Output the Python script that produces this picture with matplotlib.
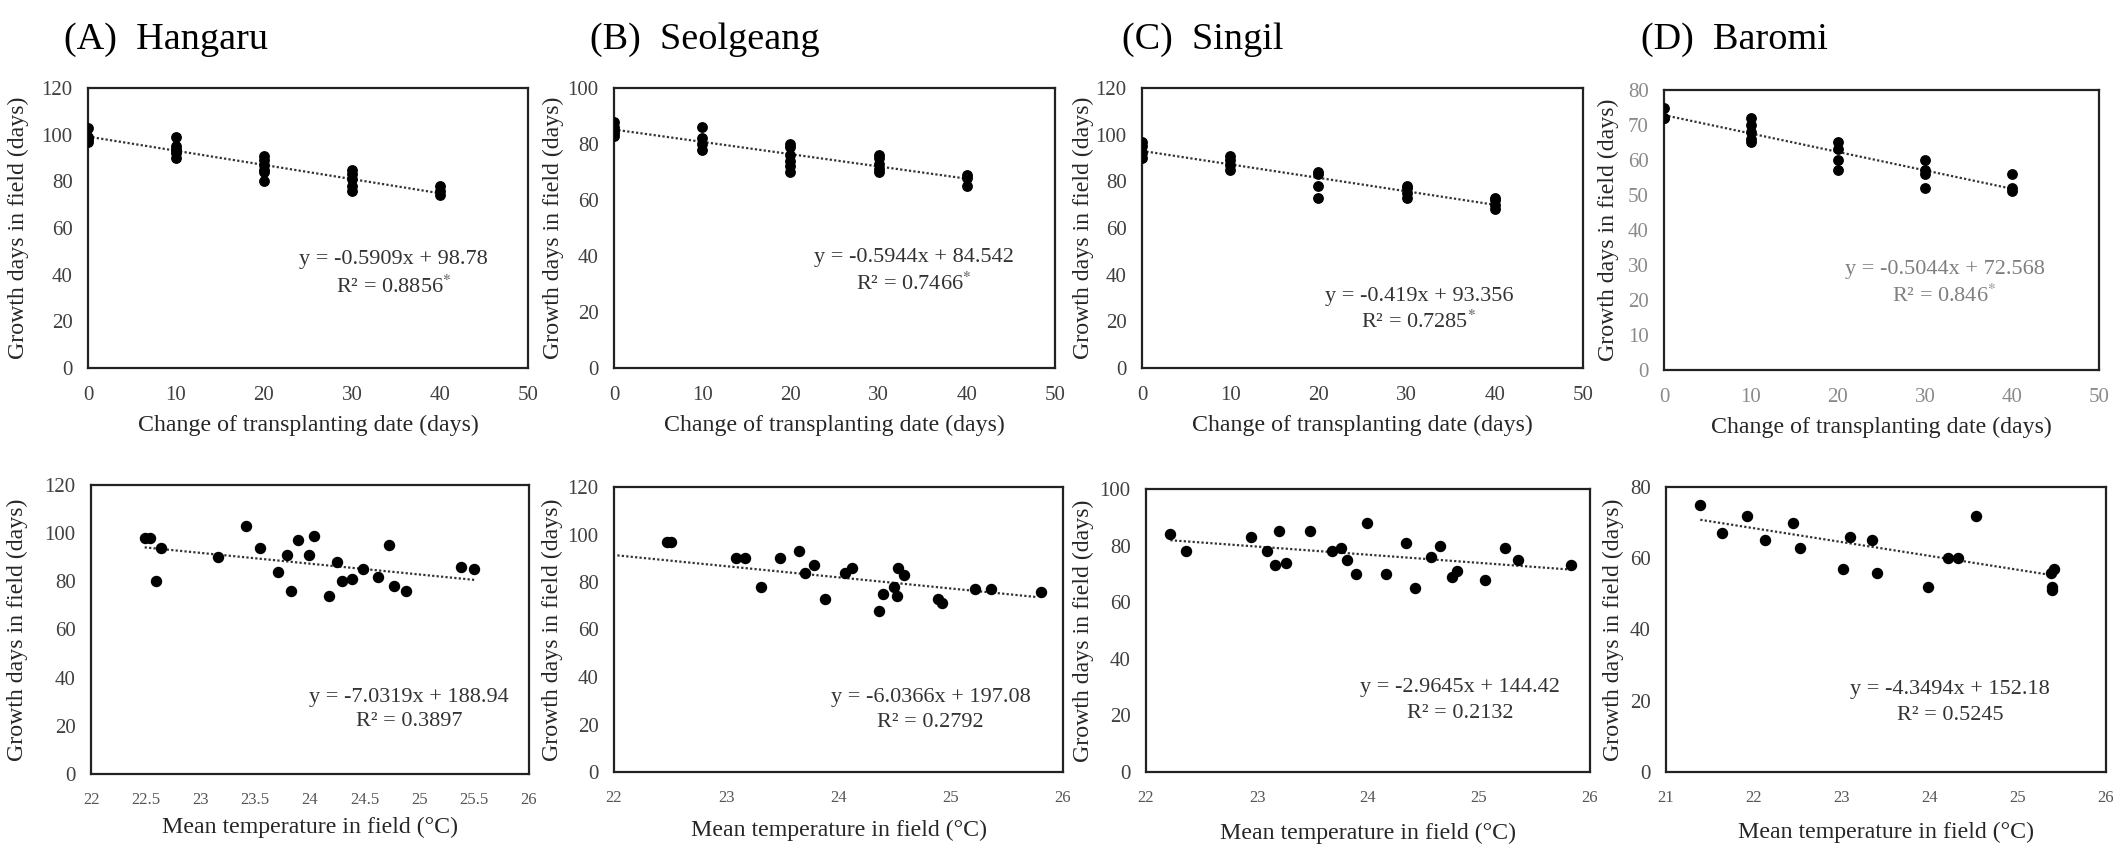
import numpy as np
import matplotlib
matplotlib.use("Agg")
import matplotlib.pyplot as plt

plt.rcParams['font.family'] = ['Liberation Serif', 'DejaVu Serif']
plt.rcParams['mathtext.fontset'] = 'stix'

# ---- top row: change of transplanting date (days) vs growth days
change_x = [0, 10, 20, 30, 40]
hangaru_change = [[103, 98, 97, 99], [99, 95, 93, 92, 90, 94], [91, 89, 87, 85, 84, 80],
                  [85, 83, 81, 78, 76], [78, 76, 74]]
seolgeang_change = [[88, 86, 85, 84, 83], [86, 82, 80, 78], [80, 79, 76, 74, 72, 70],
                    [76, 75, 73, 71, 70], [69, 68, 65]]
singil_change = [[97, 95, 92, 90], [91, 89, 87, 85], [84, 83, 78, 73],
                 [78, 77, 75, 73], [73, 72, 70, 68]]
baromi_change = [[75, 72, 72], [72, 70, 68, 66, 65], [65, 63, 60, 57],
                 [60, 57, 56, 52], [56, 52, 51]]

# ---- bottom row: mean temperature in field vs growth days
hangaru_temp = [22.49, 22.54, 22.59, 22.64, 23.16, 23.42, 23.54, 23.71, 23.79, 23.83, 23.89, 23.99,
                24.04, 24.17, 24.25, 24.29, 24.38, 24.48, 24.62, 24.72, 24.77, 24.88, 25.38, 25.50]
hangaru_days = [98, 98, 80, 94, 90, 103, 94, 84, 91, 76, 97, 91,
                99, 74, 88, 80, 81, 85, 82, 95, 78, 76, 86, 85]
seolgeang_temp = [22.47, 22.51, 23.09, 23.17, 23.31, 23.48, 23.65, 23.70, 23.78, 23.88, 24.06, 24.12,
                  24.36, 24.40, 24.49, 24.52, 24.53, 24.58, 24.89, 24.92, 25.22, 25.36, 25.80]
seolgeang_days = [97, 97, 90, 90, 78, 90, 93, 84, 87, 73, 84, 86,
                  68, 75, 78, 74, 86, 83, 73, 71, 77, 77, 76]
singil_temp = [22.22, 22.36, 22.95, 23.09, 23.16, 23.20, 23.26, 23.48, 23.68, 23.76, 23.81, 23.89,
               23.99, 24.16, 24.34, 24.42, 24.57, 24.65, 24.76, 24.80, 25.05, 25.23, 25.35, 25.83]
singil_days = [84, 78, 83, 78, 73, 85, 74, 85, 78, 79, 75, 70,
               88, 70, 81, 65, 76, 80, 69, 71, 68, 79, 75, 73]
baromi_temp = [21.39, 21.64, 21.92, 22.12, 22.44, 22.52, 23.01, 23.09, 23.34, 23.40, 23.98, 24.21,
               24.32, 24.52, 25.38, 25.41, 25.39, 25.39]
baromi_days = [75, 67, 72, 65, 70, 63, 57, 66, 65, 56, 52, 60,
               60, 72, 56, 57, 52, 51]

# dotted trend lines of the bottom row: (x start, x end), (y start, y end)
bot_trend_x = [(22.49, 25.5), (22.03, 25.76), (22.22, 25.8), (21.39, 25.4)]
bot_trend_y = [(94.1, 80.6), (91.2, 73.7), (81.9, 71.6), (70.8, 55.2)]

titles = ['(A)  Hangaru', '(B)  Seolgeang', '(C)  Singil', '(D)  Baromi']
top_eq = [('y = -0.5909x + 98.78', 'R² = 0.8856'), ('y = -0.5944x + 84.542', 'R² = 0.7466'),
          ('y = -0.419x + 93.356', 'R² = 0.7285'), ('y = -0.5044x + 72.568', 'R² = 0.846')]
bot_eq = [('y = -7.0319x + 188.94', 'R² = 0.3897'), ('y = -6.0366x + 197.08', 'R² = 0.2792'),
          ('y = -2.9645x + 144.42', 'R² = 0.2132'), ('y = -4.3494x + 152.18', 'R² = 0.5245')]
top_ymax = [120, 100, 120, 80]
top_ystep = [20, 20, 20, 10]
bot_ymax = [120, 120, 100, 80]
bot_xlim = [(22, 26), (22, 26), (22, 26), (21, 26)]
bot_xstep = [0.5, 1, 1, 1]

top_data = [hangaru_change, seolgeang_change, singil_change, baromi_change]
bot_data = [(hangaru_temp, hangaru_days), (seolgeang_temp, seolgeang_days),
            (singil_temp, singil_days), (baromi_temp, baromi_days)]

W, H = 2124, 864
top_box = [(88, 528, 88, 368), (614, 1055, 88, 368), (1142, 1583, 88, 368), (1664, 2099, 90, 370)]
bot_box = [(91, 529, 485, 774), (614, 1063, 487, 772), (1146, 1590, 489, 772), (1666, 2106, 487, 772)]
title_x = [64, 590, 1122, 1641]
top_eq_pos = [(0.694, 0.386, 0.29), (0.679, 0.393, 0.30), (0.628, 0.254, 0.164), (0.645, 0.36, 0.264)]
bot_eq_pos = [(0.726, 0.266, 0.183), (0.705, 0.263, 0.172), (0.707, 0.298, 0.207), (0.646, 0.288, 0.20)]
top_ylab = [-0.158, -0.138, -0.133, -0.128]
bot_ylab = [-0.167, -0.138, -0.14, -0.12]
bot_xlab = [-0.149, -0.168, -0.179, -0.175]

fig = plt.figure(figsize=(W / 100, H / 100), dpi=100)


def make_axes(box):
    l, r, t, b = box
    return fig.add_axes([l / W, 1 - b / H, (r - l) / W, (b - t) / H])


def style(ax):
    for s in ax.spines.values():
        s.set_linewidth(1.6)
        s.set_color('#222222')
    ax.tick_params(length=0)


for i in range(4):
    # top row
    ax = make_axes(top_box[i])
    style(ax)
    xs = np.concatenate([[x] * len(g) for x, g in zip(change_x, top_data[i])])
    ys = np.concatenate(top_data[i])
    ax.scatter(xs, ys, s=46, color='black', zorder=3)
    k, c = np.polyfit(xs, ys, 1)
    xl = np.array([change_x[0], change_x[-1]])
    ax.plot(xl, k * xl + c, color='#333333', lw=1.6, ls=(0, (1, 1)), zorder=2)
    ax.set_xlim(0, 50)
    ax.set_ylim(0, top_ymax[i])
    ax.set_xticks(np.arange(0, 51, 10))
    ax.set_yticks(np.arange(0, top_ymax[i] + 1, top_ystep[i]))
    tcol = '#8a8a8a' if i == 3 else '#404040'
    ax.tick_params(axis='x', pad=13, labelsize=15, labelcolor=tcol)
    ax.tick_params(axis='y', pad=11, labelsize=15, labelcolor=tcol)
    ax.set_xlabel('Change of transplanting date (days)', fontsize=17.2, color='#262626')
    ax.xaxis.set_label_coords(0.5, -0.168)
    ax.set_ylabel('Growth days in field (days)', fontsize=17.2, color='#262626', va='center')
    ax.yaxis.set_label_coords(top_ylab[i], 0.5)
    ecol = '#7f7f7f' if i == 3 else '#333333'
    ex, ey1, ey2 = top_eq_pos[i]
    ax.text(ex, ey1, top_eq[i][0], transform=ax.transAxes, ha='center', va='center',
            fontsize=16, color=ecol)
    ax.text(ex, ey2, top_eq[i][1] + r'$^{*}$', transform=ax.transAxes, ha='center', va='center',
            fontsize=16, color=ecol)
    fig.text(title_x[i] / W, 1 - 40 / H, titles[i], fontsize=27.5, ha='left', va='center', color='black')

    # bottom row
    ax = make_axes(bot_box[i])
    style(ax)
    tx, dy = bot_data[i]
    ax.scatter(tx, dy, s=52, color='black', zorder=3)
    ax.plot(bot_trend_x[i], bot_trend_y[i], color='#333333', lw=1.6, ls=(0, (1, 1)), zorder=2)
    x0, x1 = bot_xlim[i]
    ax.set_xlim(x0, x1)
    ax.set_ylim(0, bot_ymax[i])
    ax.set_xticks(np.arange(x0, x1 + 0.01, bot_xstep[i]))
    ax.xaxis.set_major_formatter(matplotlib.ticker.FuncFormatter(lambda v, p: f'{v:g}'))
    ax.set_yticks(np.arange(0, bot_ymax[i] + 1, 20))
    ax.tick_params(axis='x', pad=13, labelsize=12, labelcolor='#555555')
    ax.tick_params(axis='y', pad=11, labelsize=15, labelcolor='#404040')
    ax.set_xlabel('Mean temperature in field (°C)', fontsize=17.2, color='#262626')
    ax.xaxis.set_label_coords(0.5, bot_xlab[i])
    ax.set_ylabel('Growth days in field (days)', fontsize=17.2, color='#262626', va='center')
    ax.yaxis.set_label_coords(bot_ylab[i], 0.5)
    ex, ey1, ey2 = bot_eq_pos[i]
    ax.text(ex, ey1, bot_eq[i][0], transform=ax.transAxes, ha='center', va='center',
            fontsize=16, color='#333333')
    ax.text(ex, ey2, bot_eq[i][1], transform=ax.transAxes, ha='center', va='center',
            fontsize=16, color='#333333')

fig.savefig('out.png', dpi=100, facecolor='white')
